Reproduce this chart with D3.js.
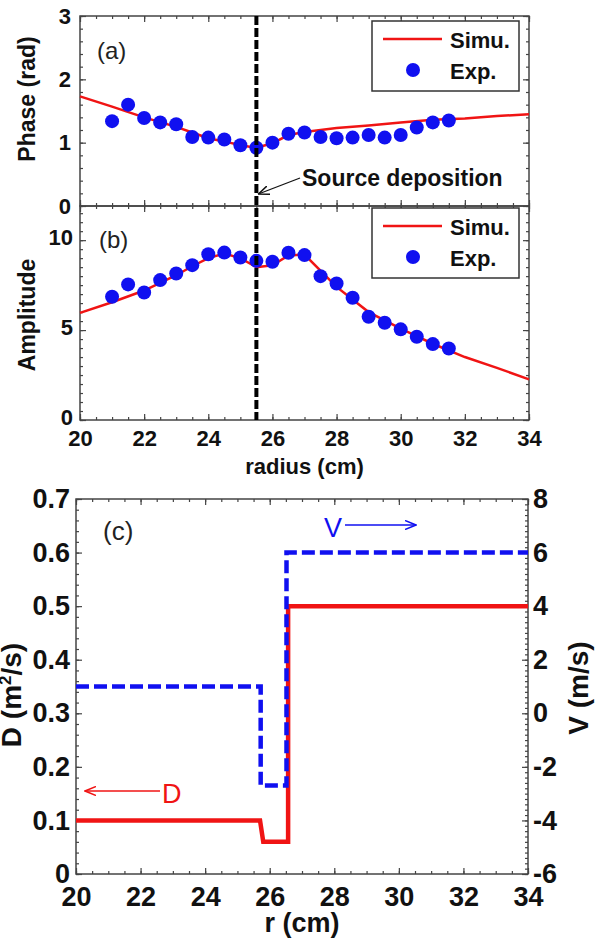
<!DOCTYPE html>
<html>
<head>
<meta charset="utf-8">
<script src="https://cdn.jsdelivr.net/npm/d3@7"></script>
<style>
  body { margin: 0; background: #fff; }
  svg { display: block; font-family: "Liberation Sans", Arial, sans-serif; }
  .axis line { stroke: #444; stroke-width: 1.2; }
  .axis text { font-weight: bold; fill: #111; }
</style>
</head>
<body>
<script>
// ---- data ----
// panels (a) and (b): experimental points
let arrExpR = [21, 21.5, 22, 22.5, 23, 23.5, 24, 24.5, 25, 25.5, 26, 26.5, 27, 27.5, 28, 28.5, 29, 29.5, 30, 30.5, 31, 31.5];
let arrPhaseExp = [1.34, 1.60, 1.39, 1.32, 1.29, 1.09, 1.08, 1.05, 0.96, 0.92, 1.00, 1.14, 1.16, 1.09, 1.07, 1.08, 1.12, 1.08, 1.12, 1.24, 1.32, 1.35];
let arrAmpExp = [6.85, 7.54, 7.09, 7.78, 8.15, 8.61, 9.22, 9.31, 9.04, 8.85, 8.80, 9.30, 9.17, 8.00, 7.59, 6.80, 5.74, 5.41, 5.04, 4.63, 4.22, 3.98];

// panels (a) and (b): simulation curves
let arrSimR = [20, 21, 22, 23, 23.5, 24, 24.5, 25, 25.5, 26, 26.5, 27, 28, 29, 30, 31, 32, 33, 34];
let arrPhaseSim = [1.73, 1.57, 1.40, 1.25, 1.16, 1.07, 1.02, 0.96, 0.92, 0.99, 1.12, 1.17, 1.23, 1.27, 1.32, 1.36, 1.38, 1.42, 1.45];
let arrAmpSim = [5.96, 6.55, 7.20, 8.05, 8.55, 9.00, 9.25, 9.00, 8.50, 8.60, 9.15, 9.20, 7.40, 6.00, 5.08, 4.24, 3.50, 2.90, 2.26];

// panel (c): D and V profiles
let arrDR = [20, 25.7, 25.8, 26.57, 26.57, 34];
let arrDVal = [0.1, 0.1, 0.06, 0.06, 0.5, 0.5];
let arrVR = [20, 25.72, 25.72, 26.52, 26.52, 34];
let arrVVal = [1, 1, -2.7, -2.7, 6, 6];

let fltSourceR = 25.5;

// tick labels
let arrRTicks = [20, 22, 24, 26, 28, 30, 32, 34];
let arrPhaseTicks = [0, 1, 2, 3];
let arrAmpTicks = [0, 5, 10];
let arrDTicks = [0, 0.1, 0.2, 0.3, 0.4, 0.5, 0.6, 0.7];
let arrVTicks = [-6, -4, -2, 0, 2, 4, 6, 8];

// ---- layout ----
let intTotalWid = 606;
let intTotalHgt = 944;

let objAB = { left: 80, right: 529, topA: 16, mid: 206, bottomB: 420 };
let objC = { left: 76, right: 528, top: 499, bottom: 874 };

let strRed = "#f01414";
let strBlue = "#1010f0";

let svg = d3.select("body")
  .append("svg")
  .attr("width", intTotalWid)
  .attr("height", intTotalHgt);

// scales
let fnXAB = d3.scaleLinear().domain([20, 34]).range([objAB.left, objAB.right]);
let fnYPhase = d3.scaleLinear().domain([0, 3]).range([objAB.mid, objAB.topA]);
let fnYAmp = d3.scaleLinear().domain([0, 11.9]).range([objAB.bottomB, objAB.mid]);
let fnXC = d3.scaleLinear().domain([20, 34]).range([objC.left, objC.right]);
let fnYD = d3.scaleLinear().domain([0, 0.7]).range([objC.bottom, objC.top]);
let fnYV = d3.scaleLinear().domain([-6, 8]).range([objC.bottom, objC.top]);

// arrow markers
let defs = svg.append("defs");
[["arrBlack", "#111"], ["arrRed", strRed], ["arrBlue", strBlue]].forEach(a => {
  defs.append("marker")
    .attr("id", a[0])
    .attr("viewBox", "0 0 12 10")
    .attr("refX", 11).attr("refY", 5)
    .attr("markerWidth", 12).attr("markerHeight", 10)
    .attr("markerUnits", "userSpaceOnUse")
    .attr("orient", "auto")
    .append("path")
    .attr("d", "M0,0.5 L11,5 L0,9.5")
    .attr("fill", "none")
    .attr("stroke", a[1])
    .attr("stroke-width", 1.5);
});

// helper: one set of ticks (major or minor) on a side
function fnTicks(gen, strTrans, arrVals, intSize, fnFmt, intPad, intFont) {
  let g = svg.append("g")
    .attr("class", "axis")
    .attr("transform", strTrans)
    .style("font-size", (intFont || 22) + "px")
    .call(gen.tickValues(arrVals).tickSize(intSize).tickPadding(intPad || 6)
      .tickFormat(fnFmt || ""));
  g.select(".domain").remove();
  return g;
}

function fnFrame(x0, y0, x1, y1) {
  svg.append("rect")
    .attr("x", x0).attr("y", y0)
    .attr("width", x1 - x0).attr("height", y1 - y0)
    .attr("fill", "none")
    .attr("stroke", "#444")
    .attr("stroke-width", 1.5);
}

let fnLabel = d => String(d);
let arrRMinor = d3.range(20, 34.01, 0.5);

// ---- panels (a) and (b) frames and ticks ----
fnFrame(objAB.left, objAB.topA, objAB.right, objAB.mid);
fnFrame(objAB.left, objAB.mid, objAB.right, objAB.bottomB);

[objAB.topA, objAB.mid].forEach(y => {
  fnTicks(d3.axisTop(fnXAB), `translate(0,${y})`, arrRMinor, -3);
  fnTicks(d3.axisTop(fnXAB), `translate(0,${y})`, arrRTicks, -6);
});
[objAB.mid, objAB.bottomB].forEach(y => {
  fnTicks(d3.axisBottom(fnXAB), `translate(0,${y})`, arrRMinor, -3);
  fnTicks(d3.axisBottom(fnXAB), `translate(0,${y})`, arrRTicks, -6);
});
fnTicks(d3.axisBottom(fnXAB), `translate(0,${objAB.bottomB})`, arrRTicks, 0, fnLabel, 10, 22);

// phase y
fnTicks(d3.axisLeft(fnYPhase), `translate(${objAB.left},0)`, d3.range(0, 3.01, 0.2), -3);
fnTicks(d3.axisLeft(fnYPhase), `translate(${objAB.left},0)`, arrPhaseTicks, -6, fnLabel, 9, 22);
fnTicks(d3.axisRight(fnYPhase), `translate(${objAB.right},0)`, d3.range(0, 3.01, 0.2), -3);
fnTicks(d3.axisRight(fnYPhase), `translate(${objAB.right},0)`, arrPhaseTicks, -6);

// amplitude y
fnTicks(d3.axisLeft(fnYAmp), `translate(${objAB.left},0)`, d3.range(0, 11.9, 0.5), -3);
fnTicks(d3.axisLeft(fnYAmp), `translate(${objAB.left},-3)`, arrAmpTicks, 0, fnLabel, 7, 22);
fnTicks(d3.axisLeft(fnYAmp), `translate(${objAB.left},0)`, arrAmpTicks, -6);
fnTicks(d3.axisRight(fnYAmp), `translate(${objAB.right},0)`, d3.range(0, 11.9, 0.5), -3);
fnTicks(d3.axisRight(fnYAmp), `translate(${objAB.right},0)`, arrAmpTicks, -6);

// ---- panel (a) data ----
svg.append("path")
  .datum(arrSimR.map((r, i) => [r, arrPhaseSim[i]]))
  .attr("d", d3.line().x(d => fnXAB(d[0])).y(d => fnYPhase(d[1])))
  .attr("fill", "none")
  .attr("stroke", strRed)
  .attr("stroke-width", 2.5);

svg.append("g").selectAll("circle")
  .data(arrExpR.map((r, i) => [r, arrPhaseExp[i]]))
  .enter()
  .append("circle")
  .attr("cx", d => fnXAB(d[0]))
  .attr("cy", d => fnYPhase(d[1]))
  .attr("r", 7)
  .attr("fill", strBlue);

// ---- panel (b) data ----
svg.append("path")
  .datum(arrSimR.map((r, i) => [r, arrAmpSim[i]]))
  .attr("d", d3.line().x(d => fnXAB(d[0])).y(d => fnYAmp(d[1])))
  .attr("fill", "none")
  .attr("stroke", strRed)
  .attr("stroke-width", 2.5);

svg.append("g").selectAll("circle")
  .data(arrExpR.map((r, i) => [r, arrAmpExp[i]]))
  .enter()
  .append("circle")
  .attr("cx", d => fnXAB(d[0]))
  .attr("cy", d => fnYAmp(d[1]))
  .attr("r", 7)
  .attr("fill", strBlue);

// source deposition line
svg.append("line")
  .attr("x1", fnXAB(fltSourceR)).attr("x2", fnXAB(fltSourceR))
  .attr("y1", objAB.topA).attr("y2", objAB.bottomB)
  .attr("stroke", "#000")
  .attr("stroke-width", 4)
  .attr("stroke-dasharray", "9,3");

svg.append("line")
  .attr("x1", 300).attr("y1", 178)
  .attr("x2", fnXAB(fltSourceR) + 2).attr("y2", 194)
  .attr("stroke", "#111")
  .attr("stroke-width", 1.3)
  .attr("marker-end", "url(#arrBlack)");

svg.append("text")
  .attr("x", 302).attr("y", 186)
  .attr("font-size", 23).attr("font-weight", "bold").attr("fill", "#111")
  .text("Source deposition");

// legends
function fnLegend(y0) {
  let g = svg.append("g");
  g.append("rect")
    .attr("x", 372).attr("y", y0)
    .attr("width", 147).attr("height", 70)
    .attr("fill", "#fff").attr("stroke", "#333").attr("stroke-width", 1.5);
  g.append("line")
    .attr("x1", 383).attr("x2", 442)
    .attr("y1", y0 + 18).attr("y2", y0 + 18)
    .attr("stroke", strRed).attr("stroke-width", 2.5);
  g.append("circle")
    .attr("cx", 413).attr("cy", y0 + 49).attr("r", 7).attr("fill", strBlue);
  g.append("text").attr("x", 450).attr("y", y0 + 27)
    .attr("font-size", 22).attr("font-weight", "bold").attr("fill", "#111").text("Simu.");
  g.append("text").attr("x", 450).attr("y", y0 + 58)
    .attr("font-size", 22).attr("font-weight", "bold").attr("fill", "#111").text("Exp.");
}
fnLegend(21);
fnLegend(208);

// panel letters and axis titles for (a), (b)
svg.append("text").attr("x", 97).attr("y", 59)
  .attr("font-size", 24).attr("fill", "#222").text("(a)");
svg.append("text").attr("x", 99).attr("y", 248)
  .attr("font-size", 24).attr("fill", "#222").text("(b)");

svg.append("text")
  .attr("transform", `translate(35,99) rotate(-90)`)
  .attr("text-anchor", "middle")
  .attr("font-size", 23).attr("font-weight", "bold").attr("fill", "#111")
  .text("Phase (rad)");
svg.append("text")
  .attr("transform", `translate(35,315) rotate(-90)`)
  .attr("text-anchor", "middle")
  .attr("font-size", 23).attr("font-weight", "bold").attr("fill", "#111")
  .text("Amplitude");
svg.append("text")
  .attr("x", (objAB.left + objAB.right) / 2).attr("y", 474)
  .attr("text-anchor", "middle")
  .attr("font-size", 22).attr("font-weight", "bold").attr("fill", "#111")
  .text("radius (cm)");

// ---- panel (c) ----
fnFrame(objC.left, objC.top, objC.right, objC.bottom);

fnTicks(d3.axisTop(fnXC), `translate(0,${objC.top})`, arrRMinor, -3);
fnTicks(d3.axisTop(fnXC), `translate(0,${objC.top})`, arrRTicks, -6);
fnTicks(d3.axisBottom(fnXC), `translate(0,${objC.bottom})`, arrRMinor, -3);
fnTicks(d3.axisBottom(fnXC), `translate(0,${objC.bottom})`, arrRTicks, -6, fnLabel, 13, 27);

fnTicks(d3.axisLeft(fnYD), `translate(${objC.left},0)`, d3.range(0, 0.701, 0.02), -3);
fnTicks(d3.axisLeft(fnYD), `translate(${objC.left},0)`, arrDTicks, -6, fnLabel, 6, 27);
fnTicks(d3.axisRight(fnYV), `translate(${objC.right},0)`, d3.range(-6, 8.01, 0.2), -3);
fnTicks(d3.axisRight(fnYV), `translate(${objC.right},0)`, arrVTicks, -6, fnLabel, 5, 27);

// D profile (red solid)
svg.append("path")
  .datum(arrDR.map((r, i) => [r, arrDVal[i]]))
  .attr("d", d3.line().x(d => fnXC(d[0])).y(d => fnYD(d[1])))
  .attr("fill", "none")
  .attr("stroke", strRed)
  .attr("stroke-width", 4.5);

// V profile (blue dashed)
svg.append("path")
  .datum(arrVR.map((r, i) => [r, arrVVal[i]]))
  .attr("d", d3.line().x(d => fnXC(d[0])).y(d => fnYV(d[1])))
  .attr("fill", "none")
  .attr("stroke", strBlue)
  .attr("stroke-width", 4.5)
  .attr("stroke-dasharray", "13,5");

svg.append("text").attr("x", 103).attr("y", 540)
  .attr("font-size", 26).attr("fill", "#222").text("(c)");

// D and V annotations
svg.append("line")
  .attr("x1", 160).attr("x2", 85).attr("y1", 791).attr("y2", 791)
  .attr("stroke", strRed).attr("stroke-width", 1.5)
  .attr("marker-end", "url(#arrRed)");
svg.append("text").attr("x", 162).attr("y", 803)
  .attr("font-size", 27).attr("fill", strRed).text("D");

svg.append("text").attr("x", 324).attr("y", 537)
  .attr("font-size", 27).attr("fill", strBlue).text("V");
svg.append("line")
  .attr("x1", 345).attr("x2", 416).attr("y1", 525).attr("y2", 525)
  .attr("stroke", strBlue).attr("stroke-width", 1.5)
  .attr("marker-end", "url(#arrBlue)");

// axis titles for (c)
let objDTitle = svg.append("text")
  .attr("transform", `translate(21,695) rotate(-90)`)
  .attr("text-anchor", "middle")
  .attr("font-size", 28).attr("font-weight", "bold").attr("fill", "#111");
objDTitle.append("tspan").text("D (m");
objDTitle.append("tspan").attr("font-size", 17).attr("dy", -10).text("2");
objDTitle.append("tspan").attr("dy", 10).text("/s)");

svg.append("text")
  .attr("transform", `translate(588,688) rotate(-90)`)
  .attr("text-anchor", "middle")
  .attr("font-size", 28).attr("font-weight", "bold").attr("fill", "#111")
  .text("V (m/s)");

svg.append("text")
  .attr("x", (objC.left + objC.right) / 2).attr("y", 932)
  .attr("text-anchor", "middle")
  .attr("font-size", 27).attr("font-weight", "bold").attr("fill", "#111")
  .text("r (cm)");
</script>
</body>
</html>
